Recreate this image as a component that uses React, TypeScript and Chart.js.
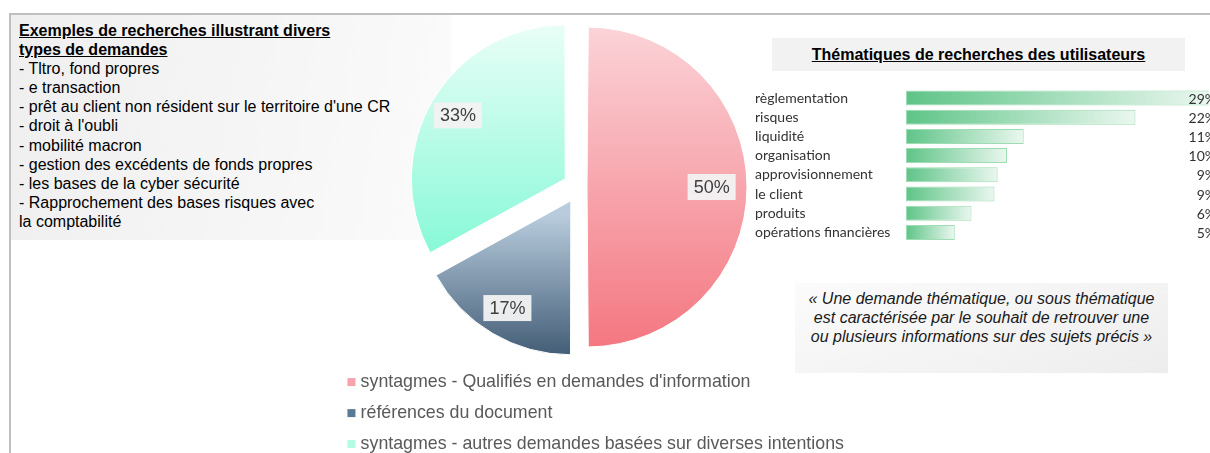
import React, { useEffect, useRef } from "react";
import { Chart, registerables } from "chart.js";

Chart.register(...registerables);

// ---- Pie data ----
const pieLabels = [
  "syntagmes - Qualifiés en demandes d'information",
  "références du document",
  "syntagmes - autres demandes basées sur diverses intentions",
];
const pieValues = [50, 17, 33];
const pieTopColors = ["#fbd3d8", "#b8ccdd", "#ecfef8"];
const pieBottomColors = ["#f47781", "#38536d", "#8bf9d8"];
const pieLegendColors = ["#f6a3ab", "#5a7a94", "#b4fbe6"];
const pieOffsets = [32, 64, 64];

// ---- Bar data ----
const themeLabels = [
  "règlementation",
  "risques",
  "liquidité",
  "organisation",
  "approvisionnement",
  "le client",
  "produits",
  "opérations financières",
];
const themeValues = [29.0, 22.0, 11.3, 9.7, 8.8, 8.5, 6.3, 4.7];

// ---- Text content ----
const exampleTitle = ["Exemples de recherches illustrant divers", "types de demandes"];
const exampleLines = [
  "- Tltro, fond propres",
  "- e transaction",
  "- prêt au client non résident sur le territoire d'une CR",
  "- droit à l'oubli",
  "- mobilité macron",
  "- gestion des excédents de fonds propres",
  "- les bases de la cyber sécurité",
  "- Rapprochement des bases risques avec",
  "la comptabilité",
];
const barTitle = "Thématiques de recherches des utilisateurs";
const quoteLines = [
  "« Une demande thématique, ou sous thématique",
  "est caractérisée par le souhait de retrouver une",
  "ou plusieurs informations sur des sujets précis »",
];

const PIE_RADIUS = 152;
const OFFSET_DIV = 4;
const FONT = '"Liberation Sans", Arial, sans-serif';

function sliceExtent(chart: any, i: number) {
  const area = chart.chartArea;
  const cy = (area.top + area.bottom) / 2;
  const total = pieValues.reduce((a, b) => a + b, 0);
  let start = -Math.PI / 2;
  for (let k = 0; k < i; k++) start += (pieValues[k] / total) * 2 * Math.PI;
  const end = start + (pieValues[i] / total) * 2 * Math.PI;
  const mid = (start + end) / 2;
  const t = pieOffsets[i] / OFFSET_DIV;
  const fix = 1 - Math.sin(Math.min(Math.PI, end - start));
  const r = PIE_RADIUS + t * fix;
  const ay = cy + Math.sin(mid) * t;
  let minY = ay;
  let maxY = ay;
  for (let s = 0; s <= 60; s++) {
    const a = start + ((end - start) * s) / 60;
    const yy = ay + Math.sin(a) * r;
    minY = Math.min(minY, yy);
    maxY = Math.max(maxY, yy);
  }
  return { minY, maxY };
}

const pieLabelPlugin = {
  id: "pieLabelPlugin",
  afterLayout(chart: any) {
    // let the single-column legend use the whole canvas width (no clipping of long items)
    const lg = chart.legend;
    if (lg) {
      lg.right = chart.width;
      lg.width = lg.right - lg.left;
    }
  },
  afterDatasetsDraw(chart: any) {
    const meta = chart.getDatasetMeta(0);
    const ctx = chart.ctx;
    const total = pieValues.reduce((a, b) => a + b, 0);
    ctx.save();
    ctx.font = "18px " + FONT;
    ctx.textAlign = "center";
    ctx.textBaseline = "middle";
    meta.data.forEach((arc: any, i: number) => {
      const { x, y, startAngle, endAngle, outerRadius } = arc.getProps(
        ["x", "y", "startAngle", "endAngle", "outerRadius"],
        true
      );
      const mid = (startAngle + endAngle) / 2;
      const t = pieOffsets[i] / OFFSET_DIV;
      const d = t + outerRadius * 0.82;
      const px = x + Math.cos(mid) * d;
      const py = y + Math.sin(mid) * d;
      const text = Math.round((pieValues[i] / total) * 100) + "%";
      const w = ctx.measureText(text).width + 12;
      const h = 26;
      ctx.fillStyle = "rgba(242,242,242,0.95)";
      ctx.fillRect(px - w / 2, py - h / 2, w, h);
      ctx.fillStyle = "#404040";
      ctx.fillText(text, px, py + 1);
    });
    ctx.restore();
  },
};

const barValuePlugin = {
  id: "barValuePlugin",
  afterDatasetsDraw(chart: any) {
    const meta = chart.getDatasetMeta(0);
    const ctx = chart.ctx;
    const area = chart.chartArea;
    ctx.save();
    ctx.font = "14px Lato, sans-serif";
    ctx.textAlign = "right";
    ctx.textBaseline = "middle";
    ctx.fillStyle = "#333333";
    meta.data.forEach((bar: any, i: number) => {
      ctx.fillText(Math.round(themeValues[i]) + "%", area.right - 3, bar.y + 1);
    });
    ctx.restore();
  },
};

export default function App() {
  const pieRef = useRef<HTMLCanvasElement>(null);
  const barRef = useRef<HTMLCanvasElement>(null);

  useEffect(() => {
    const pie = new Chart(pieRef.current as HTMLCanvasElement, {
      type: "pie",
      data: {
        labels: pieLabels,
        datasets: [
          {
            data: pieValues,
            offset: pieOffsets,
            borderWidth: 1,
            borderColor: "#ffffff",
            backgroundColor: (c: any) => {
              const chart = c.chart;
              const i = c.dataIndex;
              if (!chart.chartArea || i === undefined) return pieLegendColors[i || 0];
              const { minY, maxY } = sliceExtent(chart, i);
              const g = chart.ctx.createLinearGradient(0, minY, 0, maxY);
              g.addColorStop(0, pieTopColors[i]);
              g.addColorStop(1, pieBottomColors[i]);
              return g;
            },
          } as any,
        ],
      },
      options: {
        responsive: false,
        animation: false,
        radius: PIE_RADIUS,
        layout: { padding: { top: 14, left: 0, right: 58, bottom: 0 } },
        plugins: {
          tooltip: { enabled: false },
          legend: {
            position: "bottom",
            align: "start",
            labels: {
              usePointStyle: true,
              boxWidth: 0.5,
              boxHeight: 8,
              padding: 13.2,
              color: "#595959",
              font: { family: FONT, size: 17.8 },
              generateLabels: () =>
                pieLabels.map((text, i) => ({
                  text,
                  fillStyle: pieLegendColors[i],
                  strokeStyle: pieLegendColors[i],
                  lineWidth: 0,
                  hidden: false,
                  index: i,
                  pointStyle: "rect",
                  fontColor: "#595959",
                })),
            },
          },
        },
      } as any,
      plugins: [pieLabelPlugin],
    });

    const bar = new Chart(barRef.current as HTMLCanvasElement, {
      type: "bar",
      data: {
        labels: themeLabels,
        datasets: [
          {
            data: themeValues,
            borderColor: "#9edcb4",
            borderWidth: 1,
            borderSkipped: false,
            barPercentage: 0.78,
            categoryPercentage: 1,
            backgroundColor: (c: any) => {
              const chart = c.chart;
              const xs = chart.scales && chart.scales.x;
              if (!chart.chartArea || !xs || c.dataIndex === undefined) return "#5ec487";
              const x0 = xs.getPixelForValue(0);
              const x1 = xs.getPixelForValue(themeValues[c.dataIndex]);
              const g = chart.ctx.createLinearGradient(x0, 0, x1, 0);
              g.addColorStop(0, "#5ec487");
              g.addColorStop(1, "#eaf7ef");
              return g;
            },
          } as any,
        ],
      },
      options: {
        indexAxis: "y",
        responsive: false,
        animation: false,
        layout: { padding: { left: 10, right: 6, top: 10.4, bottom: 10 } },
        plugins: { legend: { display: false }, tooltip: { enabled: false } },
        scales: {
          x: { display: false, min: 0, max: 30 },
          y: {
            grid: { display: false, drawTicks: false },
            border: { display: false },
            ticks: {
              autoSkip: false,
              crossAlign: "far",
              padding: 0,
              color: "#333333",
              font: { family: "Lato, sans-serif", size: 14 },
            },
            afterFit: (axis: any) => {
              axis.width = 150.7;
            },
          },
        },
      } as any,
      plugins: [barValuePlugin],
    });

    return () => {
      pie.destroy();
      bar.destroy();
    };
  }, []);

  return (
    <div
      style={{
        position: "fixed",
        left: 0,
        top: 0,
        width: 1210,
        height: 453,
        overflow: "hidden",
        background: "#ffffff",
        fontFamily: FONT,
      }}
    >
      {/* frame lines */}
      <div style={{ position: "absolute", left: 9, top: 13, width: 1201, height: 2, background: "#bfbfbf" }} />
      <div style={{ position: "absolute", left: 9, top: 13, width: 2, height: 440, background: "#bfbfbf" }} />

      {/* left examples box */}
      <div
        style={{
          position: "absolute",
          left: 11,
          top: 15,
          width: 440,
          height: 225,
          background: "linear-gradient(100deg, #efefef 0%, #f6f6f6 60%, #fbfbfb 100%)",
          boxSizing: "border-box",
          padding: "6px 0 0 8px",
          fontSize: 16,
          lineHeight: "19.1px",
          color: "#000",
        }}
      >
        {exampleTitle.map((t, i) => (
          <div key={"t" + i} style={{ fontWeight: "bold", textDecoration: "underline" }}>
            {t}
          </div>
        ))}
        {exampleLines.map((t, i) => (
          <div key={"l" + i}>{t}</div>
        ))}
      </div>

      {/* bar chart title */}
      <div
        style={{
          position: "absolute",
          left: 772,
          top: 38,
          width: 413,
          height: 33,
          background: "#f2f2f2",
          display: "flex",
          alignItems: "center",
          justifyContent: "center",
          fontWeight: "bold",
          textDecoration: "underline",
          fontSize: 16,
          color: "#000",
        }}
      >
        {barTitle}
      </div>

      {/* quote box */}
      <div
        style={{
          position: "absolute",
          left: 795,
          top: 283,
          width: 373,
          height: 90,
          background: "linear-gradient(160deg, #fbfbfb 0%, #f3f3f3 60%, #ededed 100%)",
          boxSizing: "border-box",
          paddingTop: 6,
          textAlign: "center",
          fontStyle: "italic",
          fontSize: 16,
          lineHeight: "19px",
          color: "#1a1a1a",
        }}
      >
        {quoteLines.map((t, i) => (
          <div key={i}>{t}</div>
        ))}
      </div>

      <canvas
        ref={barRef}
        width={480}
        height={174}
        style={{ position: "absolute", left: 745, top: 78, width: 480, height: 174 }}
      />
      <canvas
        ref={pieRef}
        width={540}
        height={463}
        style={{ position: "absolute", left: 338, top: 0, width: 540, height: 463 }}
      />
    </div>
  );
}
